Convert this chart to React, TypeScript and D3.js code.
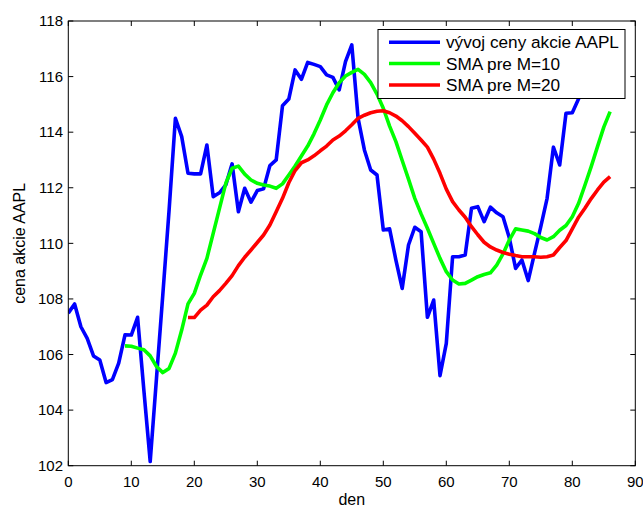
import React from "react";
import * as d3 from "d3";

// Daily closing price of AAPL (day 0..86)
const price: number[] = [
  107.49, 107.82, 107.0, 106.58, 105.95, 105.8, 104.99, 105.1, 105.69, 106.71,
  106.7, 107.34, 104.7, 102.15, 105.15, 108.15, 111.2, 114.5, 113.84, 112.52,
  112.5, 112.5, 113.54, 111.68, 111.82, 112.1, 112.86, 111.14, 111.98, 111.48,
  111.9, 111.96, 112.8, 113.0, 114.95, 115.19, 116.24, 115.9, 116.51, 116.44,
  116.36, 116.06, 115.97, 115.52, 116.54, 117.14, 114.5, 113.36, 112.64, 112.46,
  110.48, 110.52, 109.4, 108.38, 109.94, 110.58, 110.42, 107.34, 107.96, 105.24,
  106.4, 109.52, 109.52, 109.58, 111.26, 111.32, 110.78, 111.3, 111.1, 110.96,
  110.2, 109.1, 109.4, 108.66, 109.64, 110.6, 111.62, 113.46, 112.82, 114.68,
  114.7, 115.2, 115.9, 116.4, 116.1, 116.7, 117.0,
];

// Simple moving average, window 10 (first value on day 9)
const sma10Start = 9;
const sma10: number[] = [
  106.31, 106.3, 106.23, 106.17, 105.95, 105.57, 105.35, 105.5, 106.05, 106.88,
  107.82, 108.2, 108.86, 109.46, 110.36, 111.26, 112.16, 112.7, 112.78, 112.49,
  112.28, 112.16, 112.1, 112.06, 111.98, 112.14, 112.46, 112.78, 113.14, 113.5,
  113.94, 114.44, 114.98, 115.42, 115.78, 116.02, 116.15, 116.26, 116.08, 115.78,
  115.37, 114.86, 114.22, 113.66, 112.98, 112.31, 111.62, 111.06, 110.54, 110.0,
  109.46, 108.98, 108.68, 108.54, 108.56, 108.68, 108.8, 108.88, 108.94, 109.22,
  109.62, 110.12, 110.52, 110.48, 110.44, 110.35, 110.21, 110.12, 110.24, 110.47,
  110.64, 110.96, 111.44, 112.09, 112.76, 113.48, 114.18, 114.74,
];

// Simple moving average, window 20 (first value on day 19)
const sma20Start = 19;
const sma20: number[] = [
  107.33, 107.33, 107.6, 107.78, 108.08, 108.3, 108.56, 108.84, 109.2, 109.5,
  109.76, 110.03, 110.3, 110.66, 111.14, 111.62, 112.18, 112.62, 112.9, 113.0,
  113.15, 113.33, 113.5, 113.72, 113.86, 114.05, 114.27, 114.5, 114.61, 114.7,
  114.75, 114.77, 114.7, 114.58, 114.41, 114.2, 113.96, 113.72, 113.46, 113.03,
  112.52, 111.95, 111.5, 111.2, 110.94, 110.6, 110.31, 110.04, 109.87, 109.76,
  109.67, 109.61, 109.56, 109.52, 109.52, 109.52, 109.5, 109.52, 109.58, 109.85,
  110.1, 110.52, 110.94, 111.26, 111.61, 111.92, 112.2, 112.4,
];

const xTicks = [0, 10, 20, 30, 40, 50, 60, 70, 80, 90];
const yTicks = [102, 104, 106, 108, 110, 112, 114, 116, 118];

const seriesNames = ["vývoj ceny akcie AAPL", "SMA pre M=10", "SMA pre M=20"];
const seriesColors = ["#0000ff", "#00ff00", "#ff0000"];

const W = 643;
const H = 509;
const FONT = "'Liberation Sans', Arial, Helvetica, sans-serif";

export default function App() {
  const x = d3.scaleLinear().domain([0, 90]).range([68.3, 635.3]);
  const y = d3.scaleLinear().domain([102, 118]).range([465.7, 21]);

  const [x0, x1] = x.range();
  const [y0, y1] = [y(118), y(102)];

  const line = d3
    .line<[number, number]>()
    .x((d) => x(d[0]))
    .y((d) => y(d[1]));

  const series: [number, number][][] = [
    price.map((v, i) => [i, v]),
    sma10.map((v, i) => [i + sma10Start, v]),
    sma20.map((v, i) => [i + sma20Start, v]),
  ];

  const tickLen = 5;

  // legend geometry
  const lg = { x: 378, y: 29.5, w: 247, h: 69 };
  const rowY = [42.3, 63.5, 85];

  return (
    <svg
      width={W}
      height={H}
      style={{ position: "absolute", left: 0, top: 0, background: "#fff" }}
      fontFamily={FONT}
    >
      <rect x={0} y={0} width={W} height={H} fill="#fff" />
      <defs>
        <clipPath id="plotArea">
          <rect x={x0} y={y0} width={x1 - x0} height={y1 - y0} />
        </clipPath>
      </defs>

      {/* data lines */}
      <g clipPath="url(#plotArea)">
        {series.map((s, i) => (
          <path
            key={i}
            d={line(s) ?? ""}
            fill="none"
            stroke={seriesColors[i]}
            strokeWidth={3.6}
            strokeLinejoin="round"
            strokeLinecap="butt"
          />
        ))}
      </g>

      {/* axes box */}
      <rect
        x={x0}
        y={y0}
        width={x1 - x0}
        height={y1 - y0}
        fill="none"
        stroke="#000"
        strokeWidth={1}
      />

      {/* x ticks (bottom & top, pointing inward) */}
      {xTicks.map((t) => (
        <g key={"x" + t}>
          <line x1={x(t)} x2={x(t)} y1={y1} y2={y1 - tickLen} stroke="#000" />
          <line x1={x(t)} x2={x(t)} y1={y0} y2={y0 + tickLen} stroke="#000" />
          <text x={x(t)} y={487} fontSize={15} textAnchor="middle" fill="#000">
            {t}
          </text>
        </g>
      ))}

      {/* y ticks (left & right, pointing inward) */}
      {yTicks.map((t) => (
        <g key={"y" + t}>
          <line x1={x0} x2={x0 + tickLen} y1={y(t)} y2={y(t)} stroke="#000" />
          <line x1={x1} x2={x1 - tickLen} y1={y(t)} y2={y(t)} stroke="#000" />
          <text
            x={63}
            y={y(t) + 5.3}
            fontSize={15}
            textAnchor="end"
            fill="#000"
          >
            {t}
          </text>
        </g>
      ))}

      {/* axis labels */}
      <text x={(x0 + x1) / 2} y={505} fontSize={16} textAnchor="middle" fill="#000">
        den
      </text>
      <text
        transform={`translate(25, ${(y0 + y1) / 2}) rotate(-90)`}
        fontSize={16}
        textAnchor="middle"
        fill="#000"
      >
        cena akcie AAPL
      </text>

      {/* legend */}
      <g>
        <rect
          x={lg.x}
          y={lg.y}
          width={lg.w}
          height={lg.h}
          fill="#fff"
          stroke="#000"
          strokeWidth={1}
        />
        {seriesNames.map((name, i) => (
          <g key={name}>
            <line
              x1={389}
              x2={440}
              y1={rowY[i]}
              y2={rowY[i]}
              stroke={seriesColors[i]}
              strokeWidth={3.6}
            />
            <text x={446} y={rowY[i] + 6} fontSize={17.2} fill="#000">
              {name}
            </text>
          </g>
        ))}
      </g>
    </svg>
  );
}
